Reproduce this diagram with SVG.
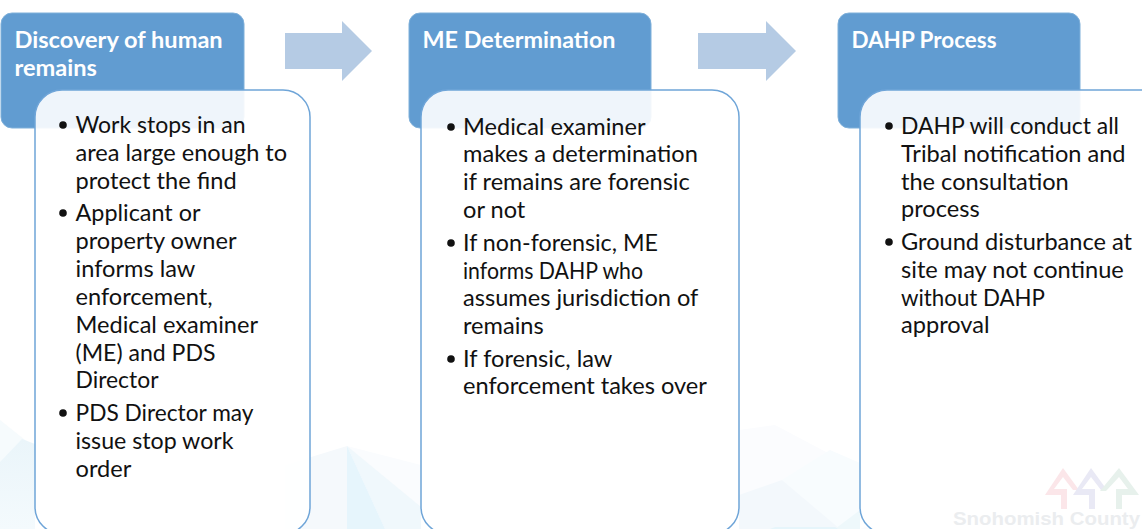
<svg xmlns="http://www.w3.org/2000/svg" width="1142" height="529" viewBox="0 0 1142 529">
<defs>
<linearGradient id="fade" x1="0" y1="0" x2="0" y2="1"><stop offset="0" stop-color="#eaf5fa"/><stop offset="1" stop-color="#f4fafd"/></linearGradient>
</defs>
<style>
.hd{fill:#619cd1;stroke:#7fb0da;stroke-width:1}
.bd{fill:#fff;fill-opacity:.9;stroke:#6fa5d8;stroke-width:1.5}
.ar{fill:#b5cbe4}
.b{fill:#111}
text{font-family:"Lato","Liberation Sans",sans-serif;font-size:23.6px;fill:#111}
.h{font-weight:700;fill:#fff}
</style>
<rect width="1142" height="529" fill="#fff"/>
<g id="background">
<polygon fill="#f6fbfd" points="0,420 35,448 35,529 0,529"/>
<polygon fill="url(#fade)" points="0,462 22,439 35,444 35,529 0,529"/>
<polygon fill="#f5f9fc" points="285,465 347,446 347,529 285,529"/>
<polygon fill="#fafcfe" points="347,446 421,465 421,529 347,529"/>
<polygon fill="#f0f8fc" points="347,446 421,507 421,529 385,529"/>
<polygon fill="#e6f5fc" points="347,446 385,529 347,529"/>
<polygon fill="#fbfcfe" points="739,430 775,425 860,470 860,529 739,529"/>
<polygon fill="#f8fcfe" points="782,480 830,450 860,463 860,529 840,529"/>
<polygon fill="#f3f8fc" points="739,495 782,480 840,529 739,529"/>
<polygon fill="#eef8fb" points="835,529 860,510 860,529"/>
<polygon fill="#e6f5fb" points="770,529 775,527 835,527 838,529"/>
<polygon fill="#fbfcfe" points="860,529 960,490 1020,460 1080,475 1142,500 1142,529"/>
</g>
<g id="connectors">
<polygon class="ar" points="285,33 342,33 342,21 372,51 342,81 342,69 285,69"/>
<polygon class="ar" points="698,33 766,33 766,21 796,51 766,81 766,69 698,69"/>
</g>
<g id="node-discovery">
<rect class="hd" x="1" y="13" width="243" height="115" rx="11"/>
<text class="h" x="14.5" y="48">Discovery of human</text>
<text class="h" x="14.5" y="76">remains</text>
<rect class="bd" x="35" y="90" width="275" height="444" rx="27"/>
<circle class="b" cx="63" cy="125" r="3.8"/>
<circle class="b" cx="63" cy="213" r="3.8"/>
<circle class="b" cx="63" cy="413" r="3.8"/>
<text x="75.5" y="133" textLength="170" lengthAdjust="spacingAndGlyphs">Work stops in an</text>
<text x="75.5" y="161">area large enough to</text>
<text x="75.5" y="189">protect the find</text>
<text x="75.5" y="221" textLength="125" lengthAdjust="spacingAndGlyphs">Applicant or</text>
<text x="75.5" y="249">property owner</text>
<text x="75.5" y="277">informs law</text>
<text x="75.5" y="305">enforcement,</text>
<text x="75.5" y="333">Medical examiner</text>
<text x="75.5" y="361" textLength="140" lengthAdjust="spacingAndGlyphs">(ME) and PDS</text>
<text x="75.5" y="388" textLength="83" lengthAdjust="spacingAndGlyphs">Director</text>
<text x="75.5" y="421" textLength="178" lengthAdjust="spacingAndGlyphs">PDS Director may</text>
<text x="75.5" y="449" textLength="158" lengthAdjust="spacingAndGlyphs">issue stop work</text>
<text x="75.5" y="477">order</text>
</g>
<g id="node-me">
<rect class="hd" x="409" y="13" width="242" height="115" rx="11"/>
<text class="h" x="422.5" y="48" textLength="193" lengthAdjust="spacingAndGlyphs">ME Determination</text>
<rect class="bd" x="421" y="90" width="318" height="444" rx="27"/>
<circle class="b" cx="451" cy="127" r="3.8"/>
<circle class="b" cx="451" cy="243" r="3.8"/>
<circle class="b" cx="451" cy="359" r="3.8"/>
<text x="463" y="135">Medical examiner</text>
<text x="463" y="162">makes a determination</text>
<text x="463" y="190">if remains are forensic</text>
<text x="463" y="218">or not</text>
<text x="463" y="251" textLength="195" lengthAdjust="spacingAndGlyphs">If non-forensic, ME</text>
<text x="463" y="279" textLength="180" lengthAdjust="spacingAndGlyphs">informs DAHP who</text>
<text x="463" y="306">assumes jurisdiction of</text>
<text x="463" y="334">remains</text>
<text x="463" y="367">If forensic, law</text>
<text x="463" y="394">enforcement takes over</text>
</g>
<g id="node-dahp">
<rect class="hd" x="838" y="13" width="242" height="115" rx="11"/>
<text class="h" x="851.5" y="48" textLength="145" lengthAdjust="spacingAndGlyphs">DAHP Process</text>
<rect class="bd" x="860" y="90" width="318" height="444" rx="27"/>
<circle class="b" cx="889" cy="126" r="3.8"/>
<circle class="b" cx="889" cy="242" r="3.8"/>
<text x="901" y="134" textLength="218" lengthAdjust="spacingAndGlyphs">DAHP will conduct all</text>
<text x="901" y="162">Tribal notification and</text>
<text x="901" y="190">the consultation</text>
<text x="901" y="217">process</text>
<text x="901" y="250">Ground disturbance at</text>
<text x="901" y="278">site may not continue</text>
<text x="901" y="306" textLength="144" lengthAdjust="spacingAndGlyphs">without DAHP</text>
<text x="901" y="333">approval</text>
</g>
<g id="logo">
<polygon fill="#fbe6e9" points="1063,468 1079,490 1073,490 1063,477 1054,489 1067,489 1067,509 1061,509 1061,495 1045,495"/>
<polygon fill="#e9e9f5" points="1091,468 1107,490 1101,490 1091,477 1082,489 1095,489 1095,509 1089,509 1089,495 1073,495"/>
<polygon fill="#e7f1ec" points="1119,468 1139,495 1122,495 1122,509 1116,509 1116,489 1128,489 1119,477 1106,491 1100,491"/>
<text x="953" y="525" textLength="187" lengthAdjust="spacingAndGlyphs" style="font-family:'Liberation Sans',sans-serif;font-weight:700;font-size:19px;fill:#ebedef">Snohomish County</text>
</g>
</svg>
